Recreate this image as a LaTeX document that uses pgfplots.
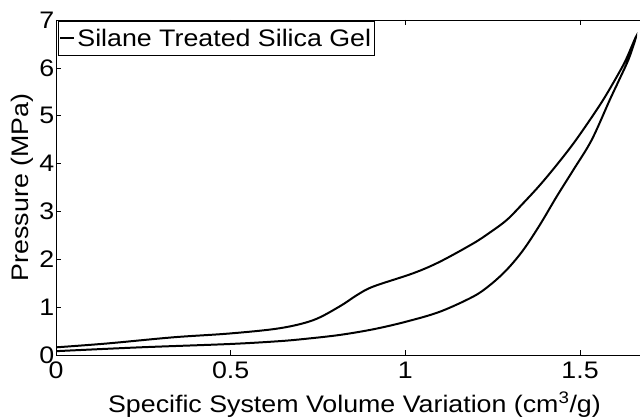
\documentclass[border=0pt]{standalone}
\usepackage{fontspec}
\setmainfont[FakeStretch=1.12]{Liberation Sans}
\usepackage{pgfplots}
\pgfplotsset{compat=1.18}
\begin{document}
\begin{tikzpicture}
\path[use as bounding box] (0bp,0bp) rectangle (640bp,419bp);
\begin{axis}[
  at={(56bp,64bp)}, anchor=south west,
  scale only axis, width=585.2bp, height=335bp,
  xmin=0, xmax=1.675, ymin=0, ymax=7,
  xtick={0,0.5,1,1.5}, ytick={0,1,2,3,4,5,6,7},
  ytick pos=left,
  tick align=inside, major tick length=5bp,
  axis line style={line width=0.8pt},
  every tick/.style={black, line width=0.6pt},
  /pgf/number format/assume math mode=true,
  ticklabel style={font=\fontsize{24}{24}\selectfont},
  yticklabel style={inner xsep=1.5bp},
  xticklabel style={inner ysep=7bp},
  label style={font=\fontsize{24}{24}\selectfont},
  xlabel={Specific System Volume Variation (cm\textsuperscript{3}/g)},
  ylabel={Pressure (MPa)},
  xlabel style={at={(rel axis cs:0.51,0)}, anchor=base, yshift=-57bp},
  ylabel style={at={(axis description cs:-0.058,0.5)}, anchor=center},
  legend style={at={(rel axis cs:0,1)}, anchor=north west, xshift=2bp, yshift=-1bp,
    draw=black, line width=0.8pt, inner xsep=1bp, inner ysep=4bp,
    font=\fontsize{24}{24}\selectfont,
    nodes={inner xsep=2bp, inner ysep=3.5bp}},
  legend cell align=left,
  legend image code/.code={\draw[#1, line width=2pt] (0bp,0bp) -- (14bp,0bp);},
]
\addplot[black, line width=2pt, smooth, tension=0.55] coordinates {
(0,0.08) (0.24,0.16) (0.498,0.23) (0.641,0.29) (0.717,0.34) (0.813,0.42)
(0.91,0.54) (1.004,0.70) (1.099,0.905) (1.194,1.22) (1.242,1.46) (1.290,1.78)
(1.337,2.19) (1.385,2.72) (1.433,3.31) (1.481,3.87) (1.533,4.49) (1.585,5.33)
(1.612,5.75) (1.640,6.2) (1.660,6.65)
(1.630,6.15) (1.600,5.75) (1.566,5.33) (1.528,4.91) (1.481,4.42) (1.433,3.97)
(1.385,3.55) (1.337,3.17) (1.290,2.82) (1.242,2.56) (1.194,2.33) (1.099,1.95) (1.023,1.71)
(0.908,1.43) (0.861,1.25) (0.813,1.02) (0.737,0.73) (0.641,0.56) (0.498,0.45)
(0.336,0.37) (0.145,0.24) (0,0.16)
};
\addlegendentry{Silane Treated Silica Gel}
\end{axis}
\end{tikzpicture}
\end{document}
